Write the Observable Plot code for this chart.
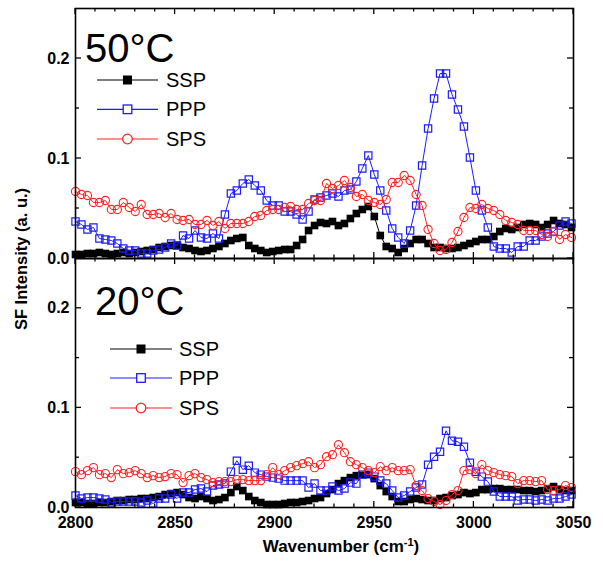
<!DOCTYPE html>
<html><head><meta charset="utf-8">
<script src="https://cdn.jsdelivr.net/npm/d3@7"></script>
<script src="https://cdn.jsdelivr.net/npm/@observablehq/plot@0.6"></script>
<style>
body{margin:0;background:#fff}
#wrap{position:relative;width:603px;height:561px;font-family:"Liberation Sans",Arial,sans-serif;overflow:hidden}
#wrap svg{position:absolute;left:0}
.ytitle{position:absolute;left:21px;top:259px;transform:translate(-50%,-50%) rotate(-90deg);font-weight:bold;font-size:16.5px;white-space:nowrap}
.xtitle{position:absolute;left:341px;top:538px;transform:translateX(-50%);font-weight:bold;font-size:17px;white-space:nowrap;line-height:1}
.xtitle sup{font-size:11px;vertical-align:6px;line-height:0}
</style>
</head><body><div id="wrap"></div>
<script>
// wavenumber grid (cm-1)
const wavenumber = [2800,2803,2806,2809,2812,2815,2818,2821,2824,2827,2830,2833,2836,2839,2842,2845,2848,2851,2854,2857,2860,2863,2866,2869,2872,2875,2878,2881,2884,2887,2890,2893,2896,2899,2902,2905,2908,2911,2914,2917,2920,2923,2926,2929,2932,2935,2938,2941,2944,2947,2950,2953,2956,2959,2962,2965,2968,2971,2974,2977,2980,2983,2986,2989,2992,2995,2998,3001,3004,3007,3010,3013,3016,3019,3022,3025,3028,3031,3034,3037,3040,3043,3046,3049];

// 50 °C
const ssp50 = [0.004,0.004,0.005,0.005,0.006,0.005,0.004,0.005,0.006,0.005,0.006,0.007,0.008,0.009,0.011,0.012,0.013,0.013,0.011,0.010,0.008,0.007,0.008,0.010,0.012,0.015,0.018,0.020,0.021,0.013,0.010,0.008,0.006,0.007,0.008,0.009,0.009,0.013,0.019,0.028,0.033,0.036,0.035,0.037,0.033,0.035,0.040,0.045,0.049,0.052,0.042,0.023,0.012,0.010,0.006,0.010,0.015,0.019,0.019,0.015,0.011,0.011,0.010,0.010,0.011,0.013,0.015,0.017,0.019,0.019,0.022,0.027,0.030,0.029,0.031,0.034,0.035,0.034,0.031,0.034,0.038,0.035,0.034,0.031];
const ppp50 = [0.037,0.034,0.029,0.031,0.020,0.019,0.018,0.015,0.010,0.008,0.008,0.005,0.005,0.008,0.009,0.011,0.015,0.013,0.023,0.020,0.028,0.021,0.020,0.025,0.020,0.044,0.065,0.068,0.075,0.079,0.073,0.068,0.058,0.053,0.053,0.047,0.047,0.044,0.039,0.047,0.059,0.061,0.063,0.065,0.062,0.068,0.069,0.077,0.090,0.103,0.084,0.068,0.048,0.030,0.021,0.015,0.028,0.053,0.093,0.130,0.160,0.185,0.185,0.164,0.149,0.132,0.101,0.068,0.048,0.031,0.012,0.010,0.010,0.006,0.012,0.012,0.018,0.018,0.022,0.025,0.027,0.033,0.037,0.035];
const sps50 = [0.067,0.064,0.063,0.056,0.056,0.058,0.049,0.049,0.056,0.051,0.047,0.054,0.044,0.044,0.045,0.041,0.045,0.039,0.038,0.039,0.034,0.034,0.038,0.033,0.037,0.030,0.035,0.035,0.035,0.037,0.042,0.043,0.048,0.049,0.049,0.051,0.052,0.049,0.049,0.055,0.058,0.058,0.075,0.070,0.073,0.078,0.071,0.062,0.064,0.058,0.056,0.054,0.059,0.076,0.076,0.083,0.078,0.064,0.053,0.029,0.015,0.008,0.009,0.016,0.027,0.041,0.051,0.050,0.054,0.050,0.048,0.044,0.038,0.036,0.034,0.028,0.028,0.028,0.024,0.022,0.027,0.019,0.024,0.021];

// 20 °C
const ssp20 = [0.005,0.005,0.004,0.004,0.005,0.005,0.006,0.007,0.007,0.008,0.008,0.009,0.009,0.010,0.011,0.013,0.014,0.015,0.013,0.010,0.009,0.011,0.009,0.007,0.008,0.010,0.015,0.021,0.017,0.011,0.007,0.005,0.003,0.003,0.003,0.004,0.005,0.005,0.006,0.007,0.009,0.010,0.014,0.018,0.024,0.027,0.030,0.032,0.033,0.033,0.029,0.022,0.016,0.011,0.006,0.006,0.008,0.009,0.008,0.007,0.007,0.009,0.010,0.012,0.013,0.015,0.014,0.015,0.018,0.018,0.019,0.019,0.018,0.018,0.018,0.017,0.017,0.016,0.017,0.019,0.021,0.018,0.017,0.017];
const ppp20 = [0.012,0.009,0.010,0.010,0.009,0.008,0.005,0.006,0.006,0.006,0.006,0.005,0.007,0.004,0.009,0.009,0.013,0.009,0.015,0.015,0.018,0.019,0.016,0.022,0.023,0.024,0.036,0.047,0.038,0.042,0.035,0.033,0.031,0.030,0.029,0.027,0.027,0.027,0.027,0.020,0.024,0.017,0.017,0.021,0.017,0.019,0.025,0.024,0.033,0.035,0.031,0.027,0.024,0.017,0.010,0.012,0.016,0.020,0.023,0.043,0.051,0.056,0.077,0.067,0.066,0.061,0.045,0.036,0.031,0.026,0.016,0.011,0.011,0.011,0.007,0.008,0.008,0.007,0.008,0.007,0.009,0.009,0.011,0.013];
const sps20 = [0.036,0.033,0.037,0.040,0.033,0.034,0.030,0.038,0.034,0.035,0.037,0.034,0.030,0.032,0.030,0.031,0.034,0.033,0.025,0.032,0.034,0.030,0.028,0.025,0.026,0.026,0.026,0.028,0.028,0.027,0.027,0.027,0.033,0.040,0.033,0.037,0.040,0.042,0.044,0.046,0.040,0.043,0.051,0.053,0.063,0.055,0.046,0.043,0.040,0.037,0.035,0.041,0.037,0.040,0.037,0.037,0.038,0.022,0.017,0.009,0.006,0.003,0.007,0.013,0.017,0.037,0.038,0.034,0.043,0.037,0.035,0.033,0.032,0.031,0.024,0.027,0.027,0.026,0.027,0.018,0.017,0.018,0.022,0.020];

const seriesNames = ["SSP","PPP","SPS"];
const seriesColors = ["#000000","#1c1cff","#ff2020"];
const panelLabels = ["50°C","20°C"];
const xTicks = [2800,2850,2900,2950,3000,3050];
const xMinorTicks = [2810,2820,2830,2840,2860,2870,2880,2890,2910,2920,2930,2940,2960,2970,2980,2990,3010,3020,3030,3040];
const yTicks = [0,0.1,0.2];
const yMinorTicks = [0.05,0.15];

const FONT = '"Liberation Sans", Arial, sans-serif';

function rows(arr, name) { return wavenumber.map((w, i) => ({w, v: arr[i], s: name})); }

function tickMark(index, scales, values, dims) {
  const {x, y} = scales;
  const L = dims.marginLeft, R = dims.width - dims.marginRight;
  const T = dims.marginTop, B = dims.height - dims.marginBottom;
  const g = d3.create("svg:g").attr("stroke", "black").attr("stroke-width", 1.3);
  const add = (x1, y1, x2, y2) => g.append("line").attr("x1", x1).attr("y1", y1).attr("x2", x2).attr("y2", y2);
  for (const t of xTicks) { add(x(t), B, x(t), B - 6); add(x(t), T, x(t), T + 6); }
  for (const t of xMinorTicks) { add(x(t), B, x(t), B - 3.5); add(x(t), T, x(t), T + 3.5); }
  for (const t of yTicks) { add(L, y(t), L + 6, y(t)); add(R, y(t), R - 6, y(t)); }
  for (const t of yMinorTicks) { add(L, y(t), L + 4, y(t)); add(R, y(t), R - 4, y(t)); }
  return g.node();
}

function legendMark(label, lg) {
  return (index, scales, values, dims) => {
    const L = dims.marginLeft, T = dims.marginTop;
    const g = d3.create("svg:g").attr("font-family", FONT).attr("text-anchor", "start");
    g.append("text").attr("x", L + lg.tx).attr("y", T + lg.ty).attr("font-size", 40).attr("fill", "black").text(label);
    seriesNames.forEach((name, k) => {
      const cy = T + lg.rows[k];
      const c = seriesColors[k];
      g.append("line").attr("x1", L + lg.x1).attr("x2", L + lg.x2).attr("y1", cy).attr("y2", cy).attr("stroke", c).attr("stroke-width", 1.2);
      const mx = L + (lg.x1 + lg.x2) / 2;
      if (k === 0) g.append("rect").attr("x", mx - 4.5).attr("y", cy - 4.5).attr("width", 9).attr("height", 9).attr("fill", c);
      else if (k === 1) g.append("rect").attr("x", mx - 4.3).attr("y", cy - 4.3).attr("width", 8.6).attr("height", 8.6).attr("fill", "white").attr("stroke", c).attr("stroke-width", 1.3);
      else g.append("circle").attr("cx", mx).attr("cy", cy).attr("r", 4.8).attr("fill", "white").attr("stroke", c).attr("stroke-width", 1.3);
      g.append("text").attr("x", L + lg.textX).attr("y", cy + 7).attr("font-size", 20).attr("fill", "black").text(name);
    });
    return g.node();
  };
}

function seriesMarks(ssp, ppp, sps) {
  const a = rows(ssp, "SSP"), b = rows(ppp, "PPP"), c = rows(sps, "SPS");
  return [
    Plot.line(a, {x: "w", y: "v", stroke: seriesColors[0], strokeWidth: 1}),
    Plot.dot(a, {x: "w", y: "v", symbol: "square", r: 4.3, fill: seriesColors[0], stroke: null}),
    Plot.line(b, {x: "w", y: "v", stroke: seriesColors[1], strokeWidth: 1}),
    Plot.dot(b, {x: "w", y: "v", symbol: "square", r: 4.1, fill: "none", stroke: seriesColors[1], strokeWidth: 1.2}),
    Plot.line(c, {x: "w", y: "v", stroke: seriesColors[2], strokeWidth: 1}),
    Plot.dot(c, {x: "w", y: "v", symbol: "circle", r: 4.1, fill: "none", stroke: seriesColors[2], strokeWidth: 1.1})
  ];
}

const common = {
  width: 603, marginLeft: 75, marginRight: 30,
  x: {domain: [2800, 3050], axis: null},
  y: {domain: [0, 0.25], axis: null},
  style: {fontFamily: FONT, background: "transparent", overflow: "visible", color: "black"}
};

const yAxis = Plot.axisY(yTicks, {tickSize: 0, tickPadding: 6, tickFormat: d3.format(".1f"), fontSize: 16, fontWeight: "bold", label: null});

const topPlot = Plot.plot({
  ...common, height: 262, marginTop: 8, marginBottom: 4,
  marks: [
    ...seriesMarks(ssp50, ppp50, sps50),
    yAxis,
    Plot.frame({stroke: "black", strokeWidth: 1.6}),
    tickMark,
    legendMark(panelLabels[0], {tx: 10, ty: 54, x1: 22, x2: 83, rows: [72, 101.3, 131], textX: 91})
  ]
});

const bottomPlot = Plot.plot({
  ...common, height: 307, marginTop: 4, marginBottom: 54,
  marks: [
    ...seriesMarks(ssp20, ppp20, sps20),
    yAxis,
    Plot.axisX(xTicks, {tickSize: 0, tickPadding: 9, tickFormat: d => String(d), fontSize: 16, fontWeight: "bold", label: null}),
    Plot.frame({stroke: "black", strokeWidth: 1.6}),
    tickMark,
    legendMark(panelLabels[1], {tx: 20, ty: 57, x1: 35, x2: 97, rows: [91, 120, 150], textX: 104})
  ]
});

const wrap = document.getElementById("wrap");
topPlot.style.top = "0px";
bottomPlot.style.top = "254px";
wrap.appendChild(topPlot);
wrap.appendChild(bottomPlot);
const yt = document.createElement("div"); yt.className = "ytitle"; yt.textContent = "SF Intensity (a. u.)"; wrap.appendChild(yt);
const xt = document.createElement("div"); xt.className = "xtitle"; xt.innerHTML = "Wavenumber (cm<sup>-1</sup>)"; wrap.appendChild(xt);
</script>
</body></html>
